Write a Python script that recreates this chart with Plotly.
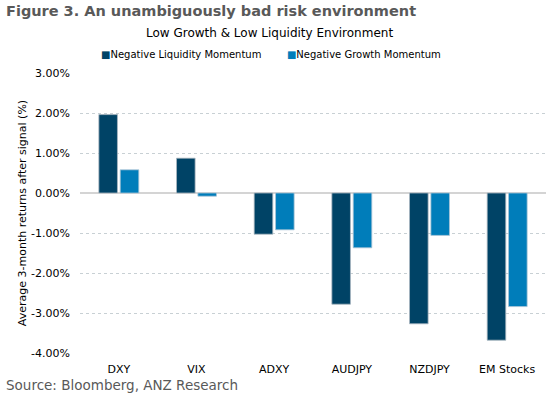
import plotly.graph_objects as go

categories = ["DXY", "VIX", "ADXY", "AUDJPY", "NZDJPY", "EM Stocks"]
liquidity = [1.96, 0.87, -1.03, -2.78, -3.27, -3.68]
growth = [0.58, -0.08, -0.92, -1.37, -1.06, -2.84]
tick_vals = [3, 2, 1, 0, -1, -2, -3, -4]
tick_text = ["3.00%", "2.00%", "1.00%", "0.00%", "-1.00%", "-2.00%", "-3.00%", "-4.00%"]
series_names = ["Negative Liquidity Momentum", "Negative Growth Momentum"]
series_colors = ["#004366", "#007DBA"]

FONT = "DejaVu Sans"
L, R, T, B = 80, 0, 73, 42
W, H = 546, 395
PW = W - L - R

fig = go.Figure()
fig.add_trace(go.Bar(x=categories, y=liquidity, name=series_names[0],
                     marker=dict(color=series_colors[0], line=dict(color="#a9b6c0", width=0.8))))
fig.add_trace(go.Bar(x=categories, y=growth, name=series_names[1],
                     marker=dict(color=series_colors[1], line=dict(color="#a9c4d6", width=0.8))))

fig.update_layout(
    width=W, height=H,
    margin=dict(l=L, r=R, t=T, b=B, autoexpand=False),
    paper_bgcolor="white", plot_bgcolor="white",
    font=dict(family=FONT, size=11, color="#000000"),
    barmode="group", bargap=0.45, bargroupgap=0.13,
    showlegend=False,
    xaxis=dict(showgrid=False, showline=False, ticks="", tickfont=dict(size=11),
               ticklabelstandoff=8, automargin=False, fixedrange=True),
    yaxis=dict(range=[-4, 3], tickvals=tick_vals, ticktext=tick_text,
               showgrid=True, gridcolor="#c8d0d4", griddash="dot", gridwidth=1,
               zeroline=True, zerolinecolor="#d4d4d4", zerolinewidth=2,
               showline=False, ticks="", tickfont=dict(size=11),
               ticklabelstandoff=9,
               title=dict(text="Average 3-month returns after signal (%)",
                          font=dict(size=11), standoff=2),
               automargin=False, fixedrange=True),
)

def px_x(x):
    return (x - L) / PW

def px_y(y):
    return 1 - (y - T) / (H - T - B)

fig.add_annotation(text="<b>Figure 3. An unambiguously bad risk environment</b>",
                   xref="paper", yref="paper", x=px_x(4), y=px_y(11),
                   xanchor="left", yanchor="middle", showarrow=False,
                   font=dict(family=FONT, size=14.5, color="#595959"))
fig.add_annotation(text="Low Growth & Low Liquidity Environment",
                   xref="paper", yref="paper", x=px_x(269), y=px_y(33),
                   xanchor="center", yanchor="middle", showarrow=False,
                   font=dict(family=FONT, size=12, color="#000000"))
legend_text = (f'<span style="color:{series_colors[0]}">■</span>{series_names[0]}'
               f'        <span style="color:{series_colors[1]}">■</span>{series_names[1]}')
fig.add_annotation(text=legend_text,
                   xref="paper", yref="paper", x=px_x(271), y=px_y(54),
                   xanchor="center", yanchor="middle", showarrow=False,
                   font=dict(family=FONT, size=10, color="#000000"))
fig.add_annotation(text="Source: Bloomberg, ANZ Research",
                   xref="paper", yref="paper", x=px_x(4), y=px_y(385),
                   xanchor="left", yanchor="middle", showarrow=False,
                   font=dict(family=FONT, size=13.5, color="#595959"))

fig.write_html("out.html", config={"displayModeBar": False},
               post_script="document.body.style.margin='0';")
